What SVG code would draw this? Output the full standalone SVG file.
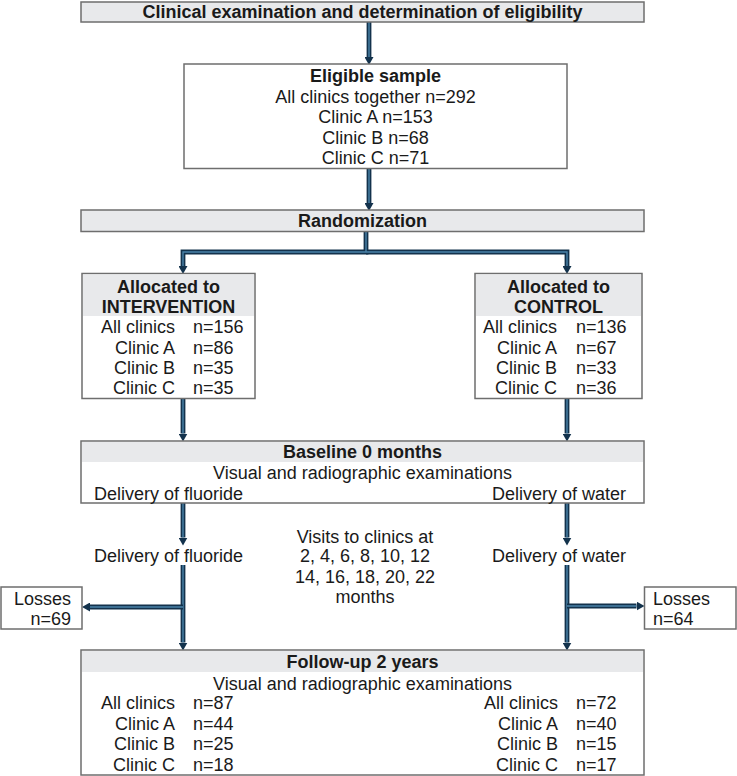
<svg xmlns="http://www.w3.org/2000/svg" width="737" height="776" viewBox="0 0 737 776">
<defs>
<style>
.box{fill:#ffffff;stroke:#6e6e6e;stroke-width:1.5}
.hdr{fill:#e8e9eb}
.t{font-family:"Liberation Sans",Arial,sans-serif;font-size:18px;fill:#1a1a1a}
.b{font-weight:bold}
.m{text-anchor:middle}
.e{text-anchor:end}
.co{fill:none;stroke:#13324c;stroke-width:4.8}
.ci{fill:none;stroke:#4b84aa;stroke-width:1.4}
</style>
<marker id="ah" viewBox="0 0 8 9" refX="0" refY="4.5" markerWidth="8" markerHeight="9" markerUnits="userSpaceOnUse" orient="auto">
<path d="M0,0 L8,4.5 L0,9 z" fill="#13324c"/>
</marker>
</defs>
<rect width="737" height="776" fill="#ffffff"/>

<g id="connectors">
<path class="co" d="M369,22 V57" marker-end="url(#ah)"/>
<path class="ci" d="M369,22 V57"/>
<path class="co" d="M369,168.5 V203" marker-end="url(#ah)"/>
<path class="ci" d="M369,168.5 V203"/>
<path class="co" d="M366,231.5 V252 H183 V266" marker-end="url(#ah)"/>
<path class="co" d="M366,252 H567 V266" marker-end="url(#ah)"/>
<path class="ci" d="M366,231.5 V252 H183 V266 M366,252 H567 V266"/>
<path class="co" d="M183,398.5 V433.5" marker-end="url(#ah)"/>
<path class="co" d="M567,398.5 V433.5" marker-end="url(#ah)"/>
<path class="ci" d="M183,398.5 V433.5 M567,398.5 V433.5"/>
<path class="co" d="M183,503 V537.5" marker-end="url(#ah)"/>
<path class="co" d="M567,503 V537.5" marker-end="url(#ah)"/>
<path class="ci" d="M183,503 V537.5 M567,503 V537.5"/>
<path class="co" d="M183,565 V642.5" marker-end="url(#ah)"/>
<path class="co" d="M567,565 V642.5" marker-end="url(#ah)"/>
<path class="ci" d="M183,565 V642.5 M567,565 V642.5"/>
<path class="co" d="M183,607 H90" marker-end="url(#ah)"/>
<path class="ci" d="M183,607 H90"/>
<path class="co" d="M567,606 H636.5" marker-end="url(#ah)"/>
<path class="ci" d="M567,606 H636.5"/>
</g>

<g id="node-exam">
<rect class="box hdr" x="81" y="2" width="563" height="20"/>
<text class="t b m" x="362.5" y="18">Clinical examination and determination of eligibility</text>
</g>

<g id="node-eligible">
<rect class="box" x="184" y="64" width="383" height="104.5"/>
<text class="t b m" x="375.5" y="82">Eligible sample</text>
<text class="t m" x="375.5" y="103">All clinics together n=292</text>
<text class="t m" x="375.5" y="123">Clinic A n=153</text>
<text class="t m" x="375.5" y="143.5">Clinic B n=68</text>
<text class="t m" x="375.5" y="163.5">Clinic C n=71</text>
</g>

<g id="node-randomization">
<rect class="box hdr" x="81" y="210" width="563" height="21.5"/>
<text class="t b m" x="362.5" y="227">Randomization</text>
</g>

<g id="node-intervention">
<rect class="box" x="82" y="273.5" width="173" height="125"/>
<rect class="hdr" x="83" y="274.5" width="171" height="41.5"/>
<text class="t b m" x="168.5" y="292.5">Allocated to</text>
<text class="t b m" x="168.5" y="312.5">INTERVENTION</text>
<text class="t e" x="175" y="333">All clinics</text>
<text class="t" x="193" y="333">n=156</text>
<text class="t e" x="175" y="353.5">Clinic A</text>
<text class="t" x="193" y="353.5">n=86</text>
<text class="t e" x="175" y="373.5">Clinic B</text>
<text class="t" x="193" y="373.5">n=35</text>
<text class="t e" x="175" y="393.5">Clinic C</text>
<text class="t" x="193" y="393.5">n=35</text>
</g>

<g id="node-control">
<rect class="box" x="475" y="273.5" width="167" height="125"/>
<rect class="hdr" x="476" y="274.5" width="165" height="41.5"/>
<text class="t b m" x="558.5" y="292.5">Allocated to</text>
<text class="t b m" x="558.5" y="312.5">CONTROL</text>
<text class="t e" x="557" y="333">All clinics</text>
<text class="t" x="576" y="333">n=136</text>
<text class="t e" x="557" y="353.5">Clinic A</text>
<text class="t" x="576" y="353.5">n=67</text>
<text class="t e" x="557" y="373.5">Clinic B</text>
<text class="t" x="576" y="373.5">n=33</text>
<text class="t e" x="557" y="393.5">Clinic C</text>
<text class="t" x="576" y="393.5">n=36</text>
</g>

<g id="node-baseline">
<rect class="box" x="81" y="441" width="563" height="62"/>
<rect class="hdr" x="82" y="442" width="561" height="20"/>
<text class="t b m" x="362.5" y="458">Baseline 0 months</text>
<text class="t m" x="362.5" y="479">Visual and radiographic examinations</text>
<text class="t" x="94" y="499.5">Delivery of fluoride</text>
<text class="t e" x="626" y="499.5">Delivery of water</text>
</g>

<g id="node-visits">
<text class="t" x="94" y="561.5">Delivery of fluoride</text>
<text class="t e" x="626" y="561.5">Delivery of water</text>
<text class="t m" x="365" y="542.5">Visits to clinics at</text>
<text class="t m" x="365" y="562">2, 4, 6, 8, 10, 12</text>
<text class="t m" x="365" y="582.5">14, 16, 18, 20, 22</text>
<text class="t m" x="365" y="603">months</text>
</g>

<g id="node-losses-left">
<rect class="box" x="1" y="587" width="81" height="42"/>
<text class="t e" x="71" y="604.5">Losses</text>
<text class="t e" x="71" y="625">n=69</text>
</g>

<g id="node-losses-right">
<rect class="box" x="644.5" y="587" width="91.5" height="42"/>
<text class="t" x="653" y="604.5">Losses</text>
<text class="t" x="653" y="625">n=64</text>
</g>

<g id="node-followup">
<rect class="box" x="81" y="650" width="563" height="125"/>
<rect class="hdr" x="82" y="651" width="561" height="21"/>
<text class="t b m" x="362.5" y="668">Follow-up 2 years</text>
<text class="t m" x="362.5" y="689.5">Visual and radiographic examinations</text>
<text class="t e" x="175" y="709">All clinics</text>
<text class="t" x="193" y="709">n=87</text>
<text class="t e" x="175" y="729.5">Clinic A</text>
<text class="t" x="193" y="729.5">n=44</text>
<text class="t e" x="175" y="750">Clinic B</text>
<text class="t" x="193" y="750">n=25</text>
<text class="t e" x="175" y="771">Clinic C</text>
<text class="t" x="193" y="771">n=18</text>
<text class="t e" x="558" y="709">All clinics</text>
<text class="t" x="576" y="709">n=72</text>
<text class="t e" x="558" y="729.5">Clinic A</text>
<text class="t" x="576" y="729.5">n=40</text>
<text class="t e" x="558" y="750">Clinic B</text>
<text class="t" x="576" y="750">n=15</text>
<text class="t e" x="558" y="771">Clinic C</text>
<text class="t" x="576" y="771">n=17</text>
</g>
</svg>
